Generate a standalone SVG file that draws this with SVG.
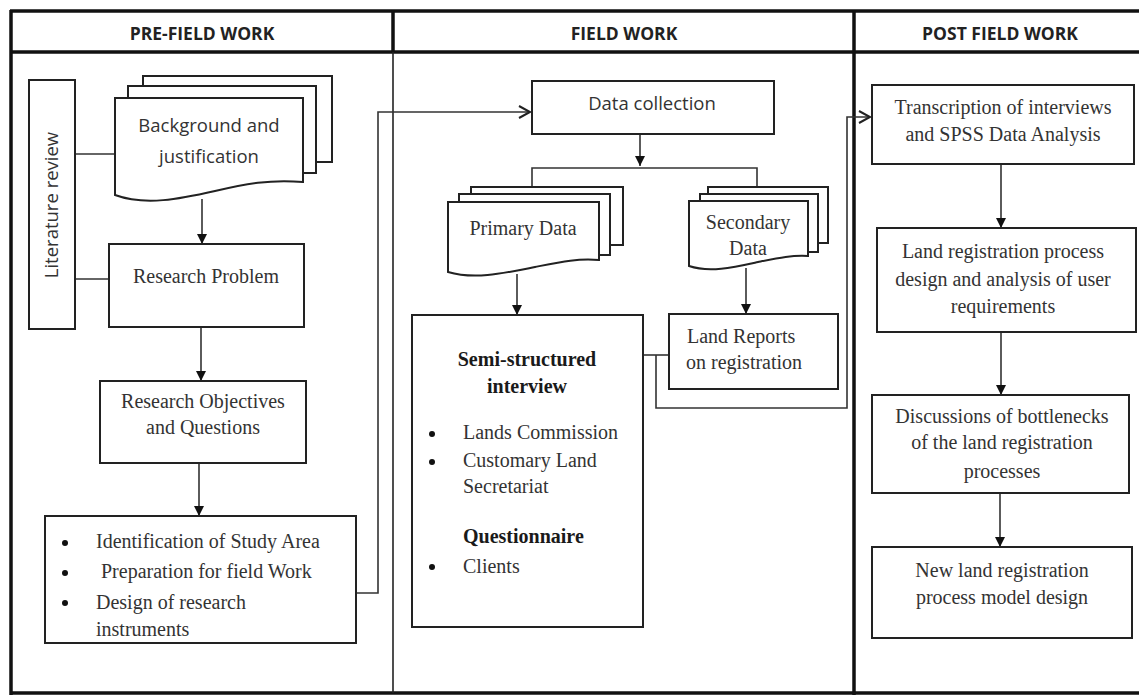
<svg xmlns="http://www.w3.org/2000/svg" width="1139" height="696" viewBox="0 0 1139 696">
  <style>
    .frame { fill: none; stroke: #111; stroke-width: 3.5; }
    .thin { fill: none; stroke: #222; stroke-width: 1.6; }
    .box { fill: #fff; stroke: #222; stroke-width: 2; }
    .page { fill: #fff; stroke: #222; stroke-width: 2; }
    .conn { fill: none; stroke: #333; stroke-width: 1.6; }
    .head { font-family: "Open Sans", "Liberation Sans", sans-serif; font-weight: bold; font-size: 17.5px; fill: #222; text-anchor: middle; }
    .sans { font-family: "Open Sans", "Liberation Sans", sans-serif; font-size: 18.5px; fill: #333; }
    .serif { font-family: "Liberation Serif", "DejaVu Serif", serif; font-size: 20px; fill: #333; }
    .bold { font-weight: bold; fill: #1a1a1a; }
    .mid { text-anchor: middle; }
    .dot { fill: #111; }
  </style>
  <defs>
    <marker id="tri" markerUnits="userSpaceOnUse" markerWidth="12" markerHeight="12" refX="10" refY="5" orient="auto">
      <path d="M0,0 L10,5 L0,10 Z" fill="#111"/>
    </marker>
    <marker id="vee" markerUnits="userSpaceOnUse" markerWidth="16" markerHeight="16" refX="13" refY="7" orient="auto">
      <path d="M2,1 L13,7 L2,13" fill="none" stroke="#222" stroke-width="2"/>
    </marker>
  </defs>

  <rect width="1139" height="696" fill="#fff"/>

  <!-- column frame and header band -->
  <g id="frame">
    <line class="frame" x1="10" y1="11" x2="1139" y2="11"/>
    <line class="frame" x1="10" y1="52" x2="1139" y2="52"/>
    <line class="frame" x1="10" y1="693" x2="1139" y2="693"/>
    <line class="frame" x1="11" y1="10" x2="11" y2="695"/>
    <line class="frame" x1="393" y1="10" x2="393" y2="52"/>
    <line class="thin" x1="393" y1="52" x2="393" y2="693"/>
    <line class="frame" x1="854" y1="10" x2="854" y2="695"/>
    <text class="head" x="202" y="40">PRE-FIELD WORK</text>
    <text class="head" x="624" y="40">FIELD WORK</text>
    <text class="head" x="1000" y="40">POST FIELD WORK</text>
  </g>

  <!-- connectors -->
  <g id="connectors">
    <line class="conn" x1="75" y1="154" x2="115" y2="154"/>
    <line class="conn" x1="75" y1="279" x2="109" y2="279"/>
    <line class="conn" x1="202" y1="199" x2="202" y2="244" marker-end="url(#tri)"/>
    <line class="conn" x1="201" y1="327" x2="201" y2="381" marker-end="url(#tri)"/>
    <line class="conn" x1="199" y1="463" x2="199" y2="516" marker-end="url(#tri)"/>
    <path class="conn" d="M357,593 H378 V112 H530" stroke-width="2" marker-end="url(#vee)"/>
    <line class="conn" x1="640" y1="134" x2="640" y2="166" marker-end="url(#tri)"/>
    <path class="conn" d="M532,187 V168 H757 V187"/>
    <line class="conn" x1="517" y1="274" x2="517" y2="315" marker-end="url(#tri)"/>
    <line class="conn" x1="746" y1="268" x2="746" y2="314" marker-end="url(#tri)"/>
    <line class="conn" x1="643" y1="355" x2="669" y2="355" stroke-width="2"/>
    <path class="conn" d="M656,355 V408 H847 V117 H870" stroke-width="2" marker-end="url(#vee)"/>
    <line class="conn" x1="1001" y1="164" x2="1001" y2="228" marker-end="url(#tri)"/>
    <line class="conn" x1="1001" y1="332" x2="1001" y2="395" marker-end="url(#tri)"/>
    <line class="conn" x1="1000" y1="493" x2="1000" y2="547" marker-end="url(#tri)"/>
  </g>

  <!-- pre-field work -->
  <g id="literature-review">
    <rect class="box" x="29" y="80" width="46" height="249"/>
    <text class="sans mid" transform="translate(58,205) rotate(-90)">Literature review</text>
  </g>

  <g id="background">
    <rect class="page" x="143" y="76" width="189" height="86"/>
    <rect class="page" x="128" y="86" width="188" height="87"/>
    <path class="page" d="M115,98 H303 V182 C270,179 245,184 215,191 C180,199 145,206 115,195 Z"/>
    <text class="sans mid" x="209" y="132">Background and</text>
    <text class="sans mid" x="209" y="163">justification</text>
  </g>

  <g id="research-problem">
    <rect class="box" x="109" y="244" width="195" height="83"/>
    <text class="serif mid" x="206" y="283">Research Problem</text>
  </g>

  <g id="research-objectives">
    <rect class="box" x="100" y="381" width="206" height="82"/>
    <text class="serif mid" x="203" y="408">Research Objectives</text>
    <text class="serif mid" x="203" y="434">and Questions</text>
  </g>

  <g id="preparation">
    <rect class="box" x="45" y="516" width="311" height="127"/>
    <circle class="dot" cx="65" cy="543" r="3"/>
    <circle class="dot" cx="65" cy="573" r="3"/>
    <circle class="dot" cx="65" cy="603" r="3"/>
    <text class="serif" x="96" y="548">Identification of Study Area</text>
    <text class="serif" x="101" y="578">Preparation for field Work</text>
    <text class="serif" x="96" y="609">Design of research</text>
    <text class="serif" x="96" y="636">instruments</text>
  </g>

  <!-- field work -->
  <g id="data-collection">
    <rect class="box" x="532" y="81" width="242" height="53"/>
    <text class="sans mid" x="652" y="110">Data collection</text>
  </g>

  <g id="primary-data">
    <rect class="page" x="471" y="187" width="152" height="58"/>
    <rect class="page" x="459" y="194" width="151" height="61"/>
    <path class="page" d="M448,202 H599 V260 C578,258 560,262 535,267 C505,273 475,280 448,272 Z"/>
    <text class="serif mid" x="523" y="235">Primary Data</text>
  </g>

  <g id="secondary-data">
    <rect class="page" x="708" y="187" width="120" height="56"/>
    <rect class="page" x="700" y="194" width="118" height="58"/>
    <path class="page" d="M689,201 H808 V256 C792,255 778,258 758,262 C735,267 710,273 689,266 Z"/>
    <text class="serif mid" x="748" y="229">Secondary</text>
    <text class="serif mid" x="748" y="255">Data</text>
  </g>

  <g id="interviews">
    <rect class="box" x="412" y="315" width="231" height="312"/>
    <text class="serif bold mid" x="527" y="366">Semi-structured</text>
    <text class="serif bold mid" x="527" y="393">interview</text>
    <circle class="dot" cx="432" cy="434" r="3"/>
    <circle class="dot" cx="432" cy="462" r="3"/>
    <circle class="dot" cx="432" cy="567" r="3"/>
    <text class="serif" x="463" y="439">Lands Commission</text>
    <text class="serif" x="463" y="467">Customary Land</text>
    <text class="serif" x="463" y="493">Secretariat</text>
    <text class="serif bold" x="463" y="543">Questionnaire</text>
    <text class="serif" x="463" y="573">Clients</text>
  </g>

  <g id="land-reports">
    <rect class="box" x="669" y="314" width="169" height="75"/>
    <text class="serif" x="687" y="343">Land Reports</text>
    <text class="serif" x="686" y="369">on registration</text>
  </g>

  <!-- post field work -->
  <g id="transcription">
    <rect class="box" x="872" y="85" width="262" height="79"/>
    <text class="serif mid" x="1003" y="114">Transcription of interviews</text>
    <text class="serif mid" x="1003" y="141">and SPSS Data Analysis</text>
  </g>

  <g id="process-design">
    <rect class="box" x="877" y="228" width="259" height="104"/>
    <text class="serif mid" x="1003" y="258">Land registration process</text>
    <text class="serif mid" x="1003" y="286">design and analysis of user</text>
    <text class="serif mid" x="1003" y="313">requirements</text>
  </g>

  <g id="bottlenecks">
    <rect class="box" x="872" y="395" width="257" height="98"/>
    <text class="serif mid" x="1002" y="423">Discussions of bottlenecks</text>
    <text class="serif mid" x="1002" y="449">of the land registration</text>
    <text class="serif mid" x="1002" y="478">processes</text>
  </g>

  <g id="new-model">
    <rect class="box" x="872" y="547" width="260" height="91"/>
    <text class="serif mid" x="1002" y="577">New land registration</text>
    <text class="serif mid" x="1002" y="604">process model design</text>
  </g>
</svg>
